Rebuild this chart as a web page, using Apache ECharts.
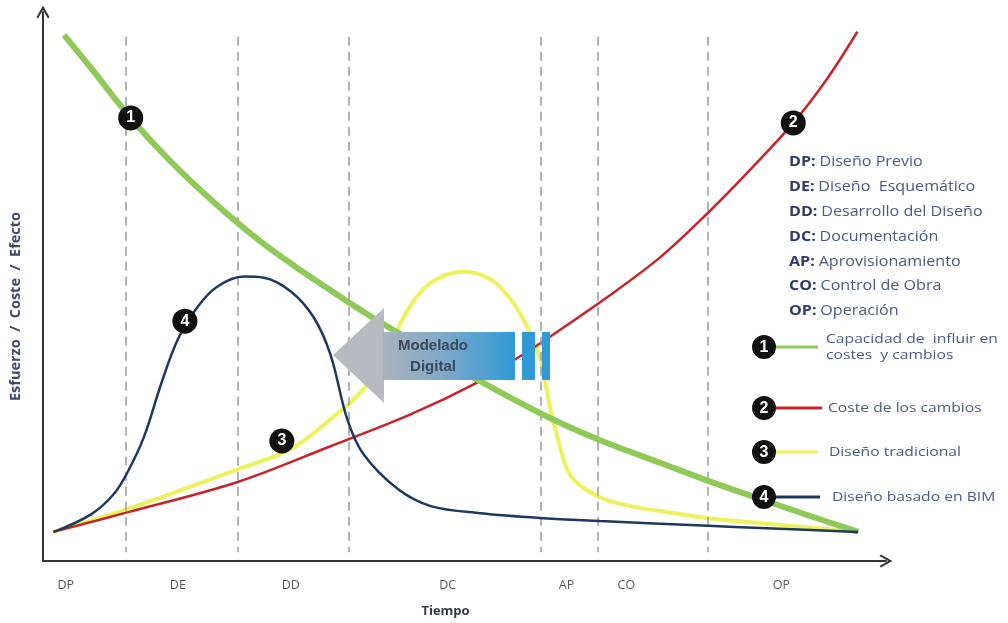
<!DOCTYPE html>
<html>
<head>
<meta charset="utf-8">
<script src="https://cdn.jsdelivr.net/npm/echarts@6/dist/echarts.min.js"></script>
<style>
html,body{margin:0;padding:0;background:#fff;}
#chart{width:1008px;height:623px;}
</style>
</head>
<body>
<div id="chart"></div>
<script>
// ---- data (x: time 0-100, y: effort/cost/effect 0-100) ----
const phaseCodes = ['DP','DE','DD','DC','AP','CO','OP'];
const phaseNames = ['Diseño Previo','Diseño  Esquemático','Desarrollo del Diseño','Documentación','Aprovisionamiento','Control de Obra','Operación'];
const phaseLabelX = [2.7, 16.0, 29.4, 48.0, 62.1, 69.2, 87.6];
const phaseBounds = [9.8, 23.1, 36.3, 59.1, 65.8, 78.9];

const seriesNames = ['Capacidad de  influir en\ncostes  y cambios','Coste de los cambios','Diseño tradicional','Diseño basado en BIM'];

const greenX = [2.5, 5.7, 10.4, 15.2, 20.3, 25.8, 30.6, 36.3, 40.0, 46.0, 51.9, 59.4, 66.1, 73.2, 78.9, 85.1, 91.0, 96.7];
const greenY = [95.8, 89.8, 80.7, 72.7, 65.3, 58.2, 52.9, 47.1, 43.5, 38.0, 32.7, 26.6, 22.0, 17.9, 14.6, 11.3, 8.2, 5.3];

const redX = [1.2, 10.1, 23.1, 34.1, 43.6, 51.5, 56.0, 60.2, 66.7, 73.2, 78.8, 83.9, 89.0, 93.0, 96.6];
const redY = [5.3, 8.9, 14.4, 20.9, 26.7, 32.5, 36.7, 40.9, 47.8, 55.3, 63.3, 71.3, 79.8, 87.8, 96.4];

const yellowX = [1.2, 10.1, 23.1, 29.4, 34.1, 38.0, 40.9, 43.3, 46.0, 49.9, 53.1, 55.5, 57.8, 59.0, 60.2, 61.0, 62.6, 66.1, 69.7, 73.2, 78.9, 85.1, 96.7];
const yellowY = [5.3, 9.5, 16.7, 20.4, 25.8, 31.3, 38.5, 45.8, 50.7, 52.7, 51.3, 47.6, 41.6, 36.7, 27.6, 22.7, 15.5, 11.6, 10.0, 9.1, 7.8, 6.9, 5.3];

const blueX = [1.3, 5.7, 8.4, 10.1, 12.0, 14.0, 16.0, 18.4, 20.7, 23.8, 26.2, 29.4, 32.1, 34.1, 36.1, 38.0, 42.1, 46.0, 51.9, 59.4, 66.1, 78.9, 85.1, 96.7];
const blueY = [5.3, 8.5, 12.2, 16.4, 22.7, 32.2, 40.4, 46.4, 50.0, 51.8, 51.6, 49.1, 44.4, 37.6, 25.8, 19.5, 13.1, 10.0, 8.7, 7.8, 7.3, 6.4, 6.0, 5.3];

const pairs = (xs, ys) => xs.map((v, i) => [v, ys[i]]);
const green = pairs(greenX, greenY);
const red = pairs(redX, redY);
const yellow = pairs(yellowX, yellowY);
const blue = pairs(blueX, blueY);

const colors = ['#8fc957', '#c8232b', '#eef25a', '#1c3a60'];
const widths = [6, 2.5, 4, 2.5];

function badge(num, pt, offset) {
  return {
    symbol: 'circle', symbolSize: 25, silent: true, z: 30,
    itemStyle: { color: '#111' },
    label: { show: true, formatter: '{c}', color: '#fff', fontWeight: 'bold', fontSize: 16, fontFamily: 'Liberation Sans' },
    data: [{ coord: pt, value: num, symbolOffset: offset || [0, 0] }]
  };
}

const chart = echarts.init(document.getElementById('chart'));

// legend / annotation graphics
const graphics = [];
const legY = [347, 408, 452, 497];
const legLineEnd = [818, 822, 818, 820];
const legTextX = [826, 828, 829, 832];
seriesNames.forEach((n, i) => {
  graphics.push({ type: 'line', shape: { x1: 770, y1: legY[i], x2: legLineEnd[i], y2: legY[i] }, style: { stroke: colors[i], lineWidth: 3 }, z: 50 });
  graphics.push({ type: 'circle', shape: { cx: 764, cy: legY[i], r: 12 }, style: { fill: '#111' }, z: 51 });
  graphics.push({ type: 'text', x: 764, y: legY[i] + 1, style: { text: String(i + 1), fill: '#fff', font: 'bold 16px Liberation Sans', align: 'center', verticalAlign: 'middle' }, z: 52 });
  graphics.push({ type: 'text', x: legTextX[i], y: legY[i], scaleX: 1.16, style: { text: n, fill: '#4a5a80', font: '13.5px "Open Sans"', align: 'left', verticalAlign: 'middle', lineHeight: 16 }, z: 52 });
});
phaseCodes.forEach((c, i) => {
  graphics.push({
    type: 'text', x: 789, y: 162 + i * 24.9, scaleX: 1.15,
    style: {
      text: '{b|' + c + ':} {r|' + phaseNames[i] + '}',
      verticalAlign: 'middle', align: 'left',
      rich: {
        b: { fontFamily: 'Open Sans', fontSize: 14, fontWeight: 'bold', fill: '#2e3a68', color: '#2e3a68' },
        r: { fontFamily: 'Open Sans', fontSize: 14, fill: '#4a5a80', color: '#4a5a80' }
      }
    }, z: 52
  });
});
// "Modelado Digital" arrow
graphics.push({ type: 'polygon', shape: { points: [[333, 355], [384, 308], [384, 403]] }, style: { fill: '#b7bbc0' }, z: 60 });
graphics.push({
  type: 'rect', shape: { x: 383, y: 332, width: 132, height: 48 },
  style: { fill: new echarts.graphic.LinearGradient(0, 0, 1, 0, [{ offset: 0, color: '#a9b3bd' }, { offset: 0.45, color: '#7fa9c9' }, { offset: 1, color: '#2f9ad6' }]) }, z: 60
});
graphics.push({ type: 'rect', shape: { x: 522, y: 332, width: 13, height: 48 }, style: { fill: '#2f9ad6' }, z: 60 });
graphics.push({ type: 'rect', shape: { x: 542, y: 332, width: 8, height: 48 }, style: { fill: '#2f9ad6' }, z: 60 });
graphics.push({ type: 'text', x: 433, y: 356, style: { text: 'Modelado\nDigital', fill: '#3b4858', font: 'bold 15px Liberation Sans', align: 'center', verticalAlign: 'middle', lineHeight: 21 }, z: 61 });

const arrowPath = 'path://M5,0 L10,9 L8.8,10 L5,3.2 L1.2,10 L0,9 Z';

const option = {
  backgroundColor: '#fff',
  animation: false,
  textStyle: { fontFamily: 'Open Sans' },
  grid: { left: 42, right: 122, top: 12, bottom: 61 },
  xAxis: {
    type: 'value', min: 0, max: 100,
    name: 'Tiempo', nameLocation: 'middle', nameGap: 44,
    nameTextStyle: { fontSize: 13, fontWeight: 'bold', color: '#333a48', padding: [0, 38, 0, 0] },
    axisLine: { show: true, symbol: ['none', arrowPath], symbolSize: [13, 15], lineStyle: { color: '#333', width: 2 } },
    axisTick: { show: false },
    splitLine: { show: false },
    axisLabel: {
      customValues: phaseLabelX, margin: 18, fontSize: 12.5, color: '#555',
      formatter: v => { let best = -1, d = 1e9; phaseLabelX.forEach((p, i) => { if (Math.abs(p - v) < d) { d = Math.abs(p - v); best = i; } }); return d < 0.5 ? phaseCodes[best] : ''; }
    }
  },
  yAxis: {
    type: 'value', min: 0, max: 100,
    name: 'Esfuerzo  /  Coste  /  Efecto', nameLocation: 'middle', nameGap: 20, nameRotate: 90,
    nameTextStyle: { fontSize: 14.5, fontWeight: 'bold', color: '#3d4a6e', padding: [0, 40, 0, 0] },
    axisLine: { show: true, symbol: ['none', arrowPath], symbolSize: [13, 15], lineStyle: { color: '#333', width: 2 } },
    axisTick: { show: false },
    splitLine: { show: false },
    axisLabel: { show: false }
  },
  graphic: graphics,
  series: [
    {
      name: 'phases', type: 'line', data: [], silent: true,
      markLine: {
        silent: true, symbol: ['none', 'none'], label: { show: false },
        lineStyle: { type: [9, 6], color: '#9a9a9a', width: 1.5 },
        data: phaseBounds.map(v => [{ coord: [v, 95.5] }, { coord: [v, 1.6] }])
      }
    },
    { name: seriesNames[2], type: 'line', data: yellow, smooth: 0.35, showSymbol: false, lineStyle: { color: colors[2], width: widths[2] }, z: 3, markPoint: badge(3, yellow[3], [-9, -8]) },
    { name: seriesNames[1], type: 'line', data: red, smooth: 0.35, showSymbol: false, lineStyle: { color: colors[1], width: widths[1] }, z: 4, markPoint: badge(2, red[12]) },
    { name: seriesNames[0], type: 'line', data: green, smooth: 0.35, showSymbol: false, lineStyle: { color: colors[0], width: widths[0] }, z: 5, markPoint: badge(1, green[2]) },
    { name: seriesNames[3], type: 'line', data: blue, smooth: 0.35, showSymbol: false, lineStyle: { color: colors[3], width: widths[3] }, z: 6, markPoint: badge(4, blue[6], [7, -18]) }
  ]
};
chart.setOption(option);
</script>
</body>
</html>
